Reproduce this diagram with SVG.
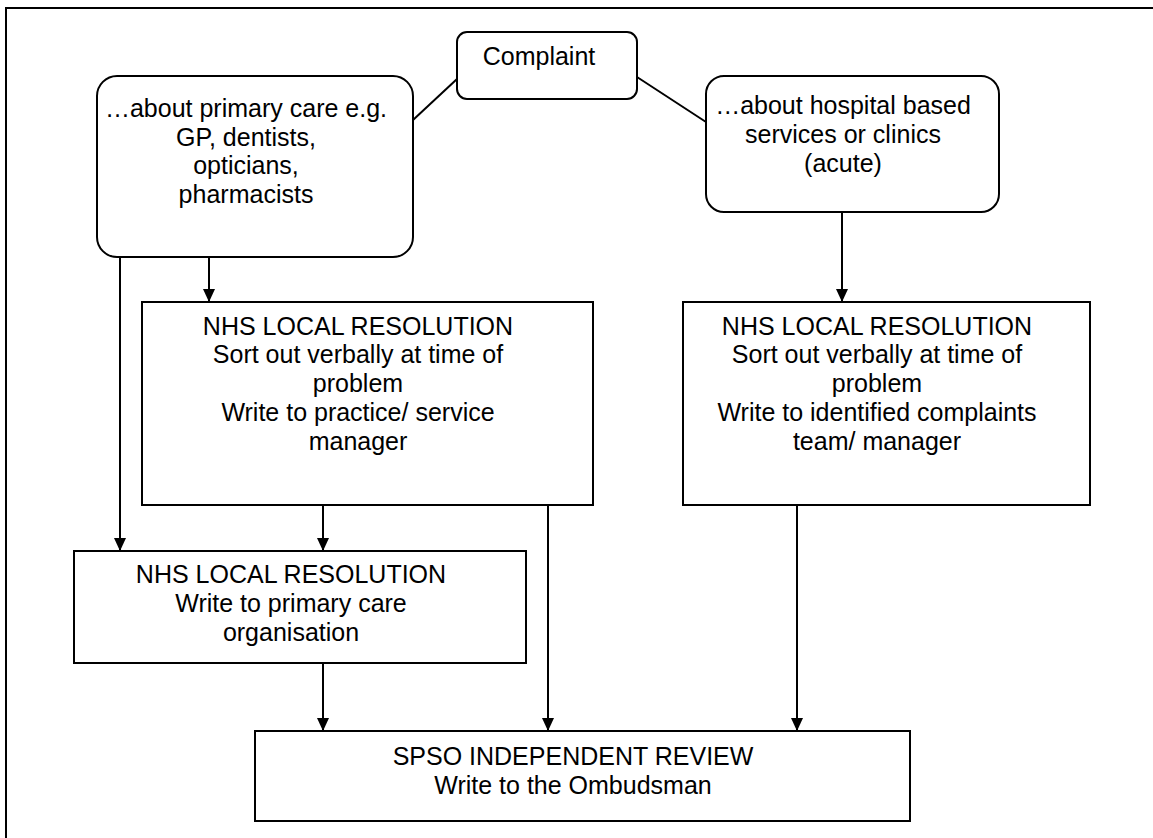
<svg xmlns="http://www.w3.org/2000/svg" width="1153" height="838" viewBox="0 0 1153 838">
<style>
  .box { fill: #ffffff; stroke: #000000; stroke-width: 2; }
  .line { fill: none; stroke: #000000; stroke-width: 2; }
  .arrow { fill: none; stroke: #000000; stroke-width: 2; marker-end: url(#ah); }
  text { font-family: "Liberation Sans", Arial, sans-serif; font-size: 25px; fill: #000000; text-anchor: middle; }
</style>
<defs>
  <marker id="ah" viewBox="0 0 13 12" refX="13" refY="6" markerWidth="13" markerHeight="12" markerUnits="userSpaceOnUse" orient="auto">
    <path d="M0,0 L13,6 L0,12 z" fill="#000000"/>
  </marker>
</defs>
<rect width="1153" height="838" fill="#ffffff"/>
<path d="M6,838 L6,8 L1153,8" fill="none" stroke="#000000" stroke-width="2"/>

<g id="connectors">
  <line class="line" x1="413" y1="120" x2="457" y2="79"/>
  <line class="line" x1="637" y1="77" x2="706" y2="122"/>
  <line class="arrow" x1="842" y1="212" x2="842" y2="302"/>
  <line class="arrow" x1="209" y1="257" x2="209" y2="302"/>
  <line class="arrow" x1="120" y1="257" x2="120" y2="551"/>
  <line class="arrow" x1="323" y1="505" x2="323" y2="551"/>
  <line class="arrow" x1="323" y1="663" x2="323" y2="731"/>
  <line class="arrow" x1="548" y1="505" x2="548" y2="731"/>
  <line class="arrow" x1="797" y1="505" x2="797" y2="731"/>
</g>

<g id="complaint">
  <rect class="box" x="457" y="32" width="180" height="67" rx="10"/>
  <text x="539" y="65">Complaint</text>
</g>

<g id="primary">
  <rect class="box" x="97" y="76" width="316" height="181" rx="20"/>
  <text x="246" y="117">…about primary care e.g.</text>
  <text x="246" y="146">GP, dentists,</text>
  <text x="246" y="174">opticians,</text>
  <text x="246" y="203">pharmacists</text>
</g>

<g id="hospital">
  <rect class="box" x="706" y="76" width="293" height="136" rx="18"/>
  <text x="843" y="114">…about hospital based</text>
  <text x="843" y="143">services or clinics</text>
  <text x="843" y="172">(acute)</text>
</g>

<g id="nhs-practice">
  <rect class="box" x="142" y="302" width="451" height="203"/>
  <text x="358" y="335">NHS LOCAL RESOLUTION</text>
  <text x="358" y="363">Sort out verbally at time of</text>
  <text x="358" y="392">problem</text>
  <text x="358" y="421">Write to practice/ service</text>
  <text x="358" y="450">manager</text>
</g>

<g id="nhs-acute">
  <rect class="box" x="683" y="302" width="407" height="203"/>
  <text x="877" y="335">NHS LOCAL RESOLUTION</text>
  <text x="877" y="363">Sort out verbally at time of</text>
  <text x="877" y="392">problem</text>
  <text x="877" y="421">Write to identified complaints</text>
  <text x="877" y="450">team/ manager</text>
</g>

<g id="nhs-pco">
  <rect class="box" x="74" y="551" width="452" height="112"/>
  <text x="291" y="583">NHS LOCAL RESOLUTION</text>
  <text x="291" y="612">Write to primary care</text>
  <text x="291" y="641">organisation</text>
</g>

<g id="spso">
  <rect class="box" x="255" y="731" width="655" height="90"/>
  <text x="573" y="765">SPSO INDEPENDENT REVIEW</text>
  <text x="573" y="794">Write to the Ombudsman</text>
</g>
</svg>
